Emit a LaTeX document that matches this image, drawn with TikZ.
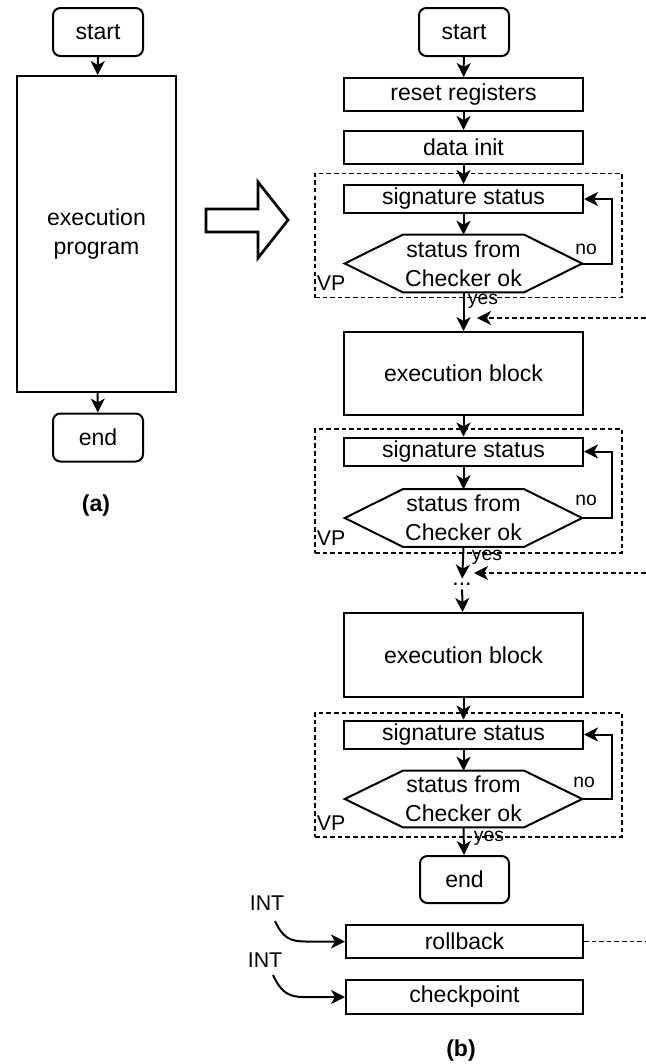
\documentclass[tikz,border=0pt]{standalone}
\usepackage{fontspec}
\setmainfont{Liberation Sans}
\usetikzlibrary{arrows.meta,calc}

\tikzset{
  txt/.style={inner sep=0pt, align=center, font=\fontsize{17.3}{21.5}\selectfont},
  proc/.style={txt, draw, line width=1.5pt, minimum width=239*0.75pt},
  term/.style={txt, draw, line width=1.5pt, rounded corners=5.5pt,
               minimum width=90*0.75pt, minimum height=48*0.75pt},
  hexnode/.style={txt, minimum width=237*0.75pt, minimum height=57*0.75pt},
  hexline/.style={line width=1.5pt, line join=miter},
  vpbox/.style={draw, line width=1.1pt, dash pattern=on 3.4pt off 2.3pt,
                minimum width=307*0.75pt, minimum height=124*0.75pt, inner sep=0pt},
  small/.style={inner sep=0pt, font=\fontsize{14.5}{16}\selectfont},
  tag/.style={inner sep=0pt, font=\fontsize{16}{18}\selectfont},
  caption/.style={inner sep=0pt, font=\bfseries\fontsize{17.3}{20}\selectfont},
  arr/.style={line width=1.5pt, -{Stealth[length=10.5pt,width=10.5pt,inset=3pt]}},
  dsh/.style={line width=1.2pt, dash pattern=on 3.4pt off 2.3pt},
}

\newcommand{\hexagon}[1]{%
  \draw[hexline] (#1.west) -- ($(#1.north west)+(58,0)$) -- ($(#1.north east)+(-58,0)$)
    -- (#1.east) -- ($(#1.south east)+(-58,0)$) -- ($(#1.south west)+(58,0)$) -- cycle;}

\begin{document}
\begin{tikzpicture}[x=0.75pt,y=-0.75pt]
\useasboundingbox (0,0) rectangle (646,1064);

% ---------- (a) plain program ----------
\node[term] (startA) at (98,32) {start};
\node[proc, minimum width=159*0.75pt, minimum height=316*0.75pt] (prog) at (96.5,234) {execution\\program};
\node[term] (endA) at (98,437.5) {end};
\node[caption] (capA) at (96,506) {(a)};
\draw[arr] (startA) -- (prog);
\draw[arr] (prog) -- (endA);

% hollow transformation arrow
\draw[line width=2pt, line join=miter]
  (206,209) -- (258,209) -- (258,182) -- (288,220) -- (258,258) -- (258,232) -- (206,232) -- cycle;

% ---------- (b) program with verification points ----------
\node[vpbox] (vp1) at (468.5,235.5) {};
\node[vpbox] (vp2) at (468.5,491) {};
\node[vpbox] (vp3) at (468.5,775) {};

\node[term] (startB) at (464,32) {start};
\node[proc, minimum height=33*0.75pt] (reset) at (463.5,94.5) {reset registers};
\node[proc, minimum height=33*0.75pt] (init) at (463.5,147.5) {data init};

\node[proc, minimum height=28*0.75pt] (sig1) at (463.5,199) {signature status};
\node[hexnode] (hex1) at (463.5,263.5) {status from\\Checker ok};
\hexagon{hex1}

\node[proc, minimum height=83*0.75pt] (exec1) at (463.5,373.5) {execution block};

\node[proc, minimum height=28*0.75pt] (sig2) at (463.5,451.5) {signature status};
\node[hexnode] (hex2) at (463.5,518) {status from\\Checker ok};
\hexagon{hex2}

\node[txt] (dots) at (462,584) {...};

\node[proc, minimum height=84*0.75pt] (exec2) at (463.5,655) {execution block};

\node[proc, minimum height=28*0.75pt] (sig3) at (463.5,734.5) {signature status};
\node[hexnode, minimum height=56*0.75pt] (hex3) at (463.5,799) {status from\\Checker ok};
\hexagon{hex3}

\node[term, minimum width=89*0.75pt, minimum height=47*0.75pt] (endB) at (464.5,879.5) {end};

\node[proc, minimum width=237*0.75pt, minimum height=33*0.75pt] (rollback) at (464.5,941.5) {rollback};
\node[proc, minimum width=237*0.75pt, minimum height=34*0.75pt] (checkpoint) at (464.5,997) {checkpoint};

\node[caption] (capB) at (461,1051) {(b)};

% labels
\node[tag] (vpl1) at (331,283.5) {VP};
\node[tag] (vpl2) at (331,538.5) {VP};
\node[tag] (vpl3) at (331,823.5) {VP};
\node[small] (no1) at (586,249) {no};
\node[small] (no2) at (586,500) {no};
\node[small] (no3) at (584,782) {no};
\node[small] (yes1) at (483,301.5) {yes};
\node[small] (yes2) at (487,557) {yes};
\node[small] (yes3) at (489,838) {yes};
\node[tag] (int1) at (267,903.5) {INT};
\node[tag] (int2) at (265,960) {INT};

% main flow
\draw[arr] (startB) -- (reset);
\draw[arr] (reset) -- (init);
\draw[arr] (init) -- (sig1);
\draw[arr] (sig1) -- (hex1);
\draw[arr] (hex1.south) -- (exec1);
\draw[arr] (exec1) -- (sig2);
\draw[arr] (sig2) -- (hex2);
\draw[arr, shorten >=4pt] (hex2.south) -- (dots.center);
\draw[arr, shorten <=4pt] (dots.center) -- (exec2);
\draw[arr] (exec2) -- (sig3);
\draw[arr] (sig3) -- (hex3);
\draw[arr] (hex3.south) -- (endB);

% retry loops
\draw[arr] (hex1.east) -- ++(30,0) |- (sig1.east);
\draw[arr] (hex2.east) -- ++(30,0) |- (sig2.east);
\draw[arr] (hex3.east) -- ++(30,0) |- (sig3.east);

% rollback re-entry paths
\coordinate (in1) at (646,318);
\coordinate (tip1) at (477,318);
\coordinate (in2) at (646,573);
\coordinate (tip2) at (474,573);
\coordinate (out1) at (646,941.5);
\draw[arr, dsh] (in1) -- (tip1);
\draw[arr, dsh] (in2) -- (tip2);
\draw[dsh] (rollback.east) -- (out1);

% interrupt triggers
\coordinate (i1) at (275,921);
\coordinate (i2) at (273,975);
\draw[arr] (i1) .. controls (283,938) and (290,941.5) .. (306,941.5) -- (rollback.west);
\draw[arr] (i2) .. controls (281,992) and (288,997) .. (304,997) -- (checkpoint.west);

\end{tikzpicture}
\end{document}
